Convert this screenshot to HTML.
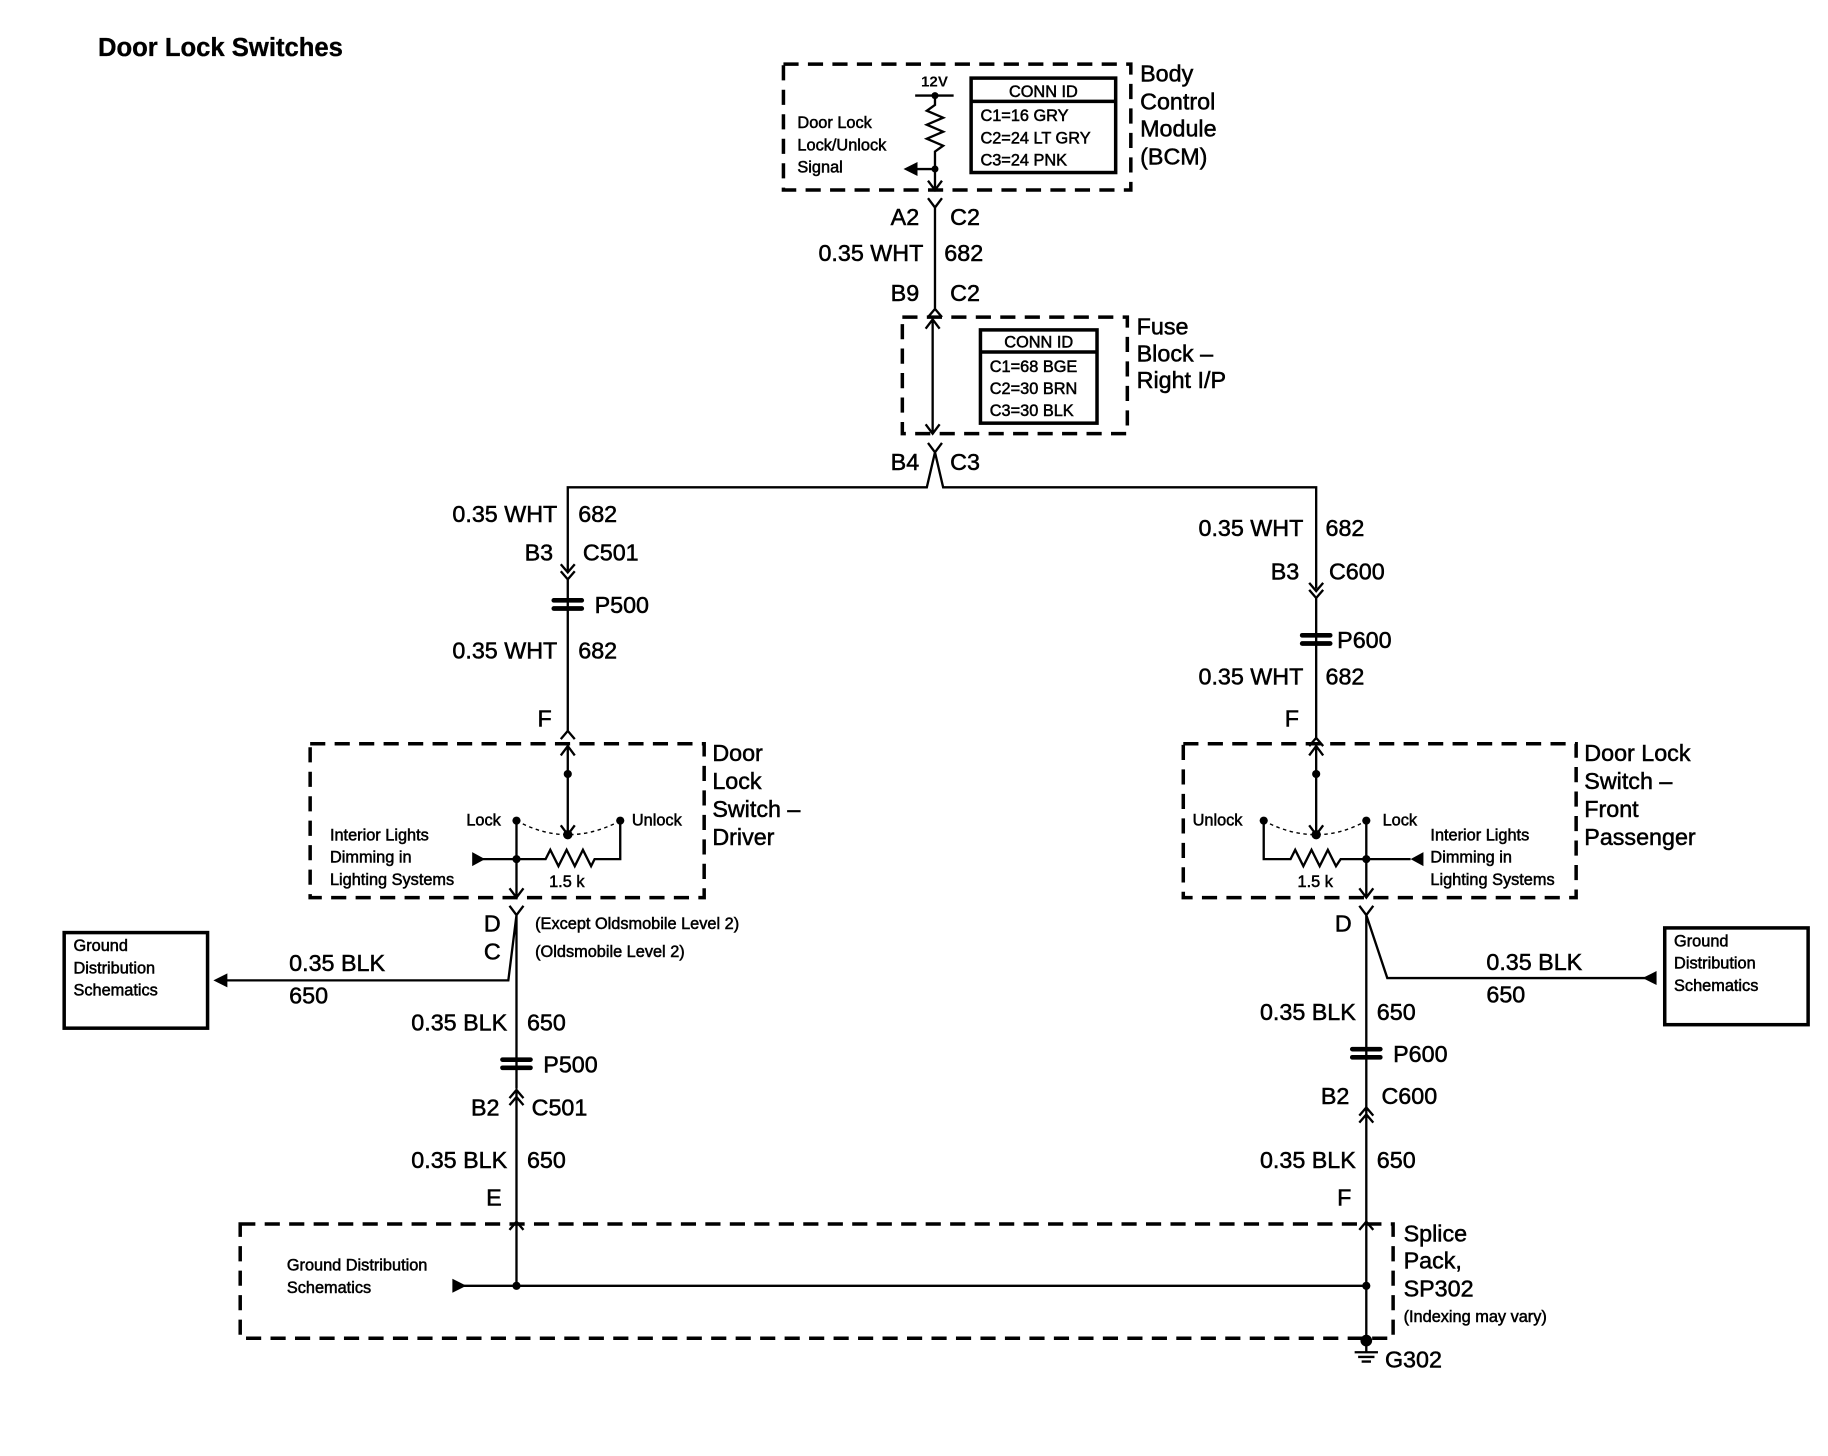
<!DOCTYPE html>
<html><head><meta charset="utf-8"><style>
html,body{margin:0;padding:0;background:#fff}
svg{display:block}
text{font-family:"Liberation Sans",Arial,sans-serif;fill:#000;stroke:#000;stroke-width:0.45}
.l{font-size:20px}.s{font-size:14px}.m{font-size:15px}
.d{fill:none;stroke:#000;stroke-width:3;stroke-dasharray:13 8}
.w{fill:none;stroke:#000;stroke-width:2}
.b{fill:none;stroke:#000;stroke-width:3}
</style></head><body>
<svg width="1828" height="1456" viewBox="0 0 1568 1249" xmlns="http://www.w3.org/2000/svg">
<text x="84" y="48" style="font-size:22px;font-weight:bold;stroke-width:0.3">Door Lock Switches</text>

<!-- BCM -->
<rect class="d" x="672" y="55" width="298" height="108"/>
<text x="790" y="74" style="font-size:13px;font-weight:bold;stroke-width:0">12V</text>
<path class="w" d="M785 82H818 M802 82V90 L795 95 L809 101 L795 107 L809 113 L795 119 L809 125 L802 130 V163 M796 155 L802 163 L808 155"/>
<circle cx="802" cy="82" r="3"/><circle cx="802" cy="145" r="3"/>
<path class="w" d="M802 145H785"/><path d="M775 145 L787 139 L787 151Z"/>
<text class="s" x="684" y="110">Door Lock</text><text class="s" x="684" y="129">Lock/Unlock</text><text class="s" x="684" y="148">Signal</text>
<rect class="b" x="833" y="67" width="124" height="81"/><path class="b" d="M833 87H957"/>
<text class="s" x="895" y="83" text-anchor="middle">CONN ID</text>
<text class="s" x="841" y="104">C1=16 GRY</text><text class="s" x="841" y="123">C2=24 LT GRY</text><text class="s" x="841" y="142">C3=24 PNK</text>
<text class="l" x="978" y="70">Body</text><text class="l" x="978" y="94">Control</text><text class="l" x="978" y="117">Module</text><text class="l" x="978" y="141">(BCM)</text>

<path class="w" d="M796 170 L802 178 L808 170 M802 178V265 M796 272 L802 265 L808 272"/>
<text class="l" x="764" y="193">A2</text><text class="l" x="815" y="193">C2</text>
<text class="l" x="792" y="224" text-anchor="end">0.35 WHT</text><text class="l" x="810" y="224">682</text>
<text class="l" x="764" y="258">B9</text><text class="l" x="815" y="258">C2</text>

<!-- Fuse block -->
<rect class="d" x="774" y="272" width="193" height="100"/>
<path class="w" d="M800 274V372 M794 282 L800 274 L806 282 M794 364 L800 372 L806 364"/>
<rect class="b" x="841" y="283" width="100" height="80"/><path class="b" d="M841 302H941"/>
<text class="s" x="891" y="298" text-anchor="middle">CONN ID</text>
<text class="s" x="849" y="319">C1=68 BGE</text><text class="s" x="849" y="338">C2=30 BRN</text><text class="s" x="849" y="357">C3=30 BLK</text>
<text class="l" x="975" y="287">Fuse</text><text class="l" x="975" y="310">Block –</text><text class="l" x="975" y="333">Right I/P</text>

<path class="w" d="M796 380 L802 388 L808 380 M802 388 L795 418 H487 V490 M802 388 L809 418 H1129 V505"/>
<text class="l" x="764" y="403">B4</text><text class="l" x="815" y="403">C3</text>

<!-- Left column -->
<text class="l" x="478" y="448" text-anchor="end">0.35 WHT</text><text class="l" x="496" y="448">682</text>
<text class="l" x="450" y="481">B3</text><text class="l" x="500" y="481">C501</text>
<path class="w" d="M481 484 L487 491 L493 484 M481 490 L487 497 L493 490 M487 497V627 M481 634 L487 627 L493 634"/>
<rect x="473" y="513" width="28" height="4" rx="2"/><rect x="473" y="520" width="28" height="4" rx="2"/>
<text class="l" x="510" y="526">P500</text>
<text class="l" x="478" y="565" text-anchor="end">0.35 WHT</text><text class="l" x="496" y="565">682</text>
<text class="l" x="461" y="623">F</text>

<rect class="d" x="266" y="638" width="338" height="132"/>
<path class="w" d="M487 640V716 M481 648 L487 640 L493 648 M481 708 L487 716 L493 708"/>
<circle cx="487" cy="664" r="3.5"/><circle cx="487" cy="716" r="4"/>
<circle cx="443" cy="704" r="3.5"/><circle cx="532" cy="704" r="3.5"/>
<path d="M443 704 Q465 716 487 716 Q510 716 532 704" fill="none" stroke="#000" stroke-width="1.2" stroke-dasharray="3 3"/>
<path class="w" d="M443 704V770 M437 762 L443 770 L449 762 M412 737H468 L472 729 L479 743 L486 729 L493 743 L500 729 L507 743 L510 737 H532 V704"/>
<path d="M416 737 L405 731 L405 743Z"/><circle cx="443" cy="737" r="3.5"/>
<text class="s" x="400" y="708">Lock</text><text class="s" x="542" y="708">Unlock</text>
<text class="s" x="283" y="721">Interior Lights</text><text class="s" x="283" y="740">Dimming in</text><text class="s" x="283" y="759">Lighting Systems</text>
<text class="s" x="471" y="761">1.5 k</text>
<text class="l" x="611" y="653">Door</text><text class="l" x="611" y="677">Lock</text><text class="l" x="611" y="701">Switch –</text><text class="l" x="611" y="725">Driver</text>

<path class="w" d="M437 777 L443 785 L449 777 M443 785V934 M443 785 L436 841 H190"/>
<path d="M183 841 L195 835 L195 847Z"/>
<text class="l" x="415" y="799">D</text><text class="l" x="415" y="823">C</text>
<text class="s" x="459" y="797">(Except Oldsmobile Level 2)</text><text class="s" x="459" y="821">(Oldsmobile Level 2)</text>
<text class="l" x="248" y="833">0.35 BLK</text><text class="l" x="248" y="861">650</text>
<rect class="b" x="55" y="800" width="123" height="82"/>
<text class="s" x="63" y="816">Ground</text><text class="s" x="63" y="835">Distribution</text><text class="s" x="63" y="854">Schematics</text>
<text class="l" x="435" y="884" text-anchor="end">0.35 BLK</text><text class="l" x="452" y="884">650</text>
<rect x="429" y="907" width="28" height="4" rx="2"/><rect x="429" y="914" width="28" height="4" rx="2"/>
<text class="l" x="466" y="920">P500</text>
<path class="w" d="M437 942 L443 935 L449 942 M437 948 L443 941 L449 948 M443 935V1103 M437 1055 L443 1048 L449 1055"/>
<text class="l" x="404" y="957">B2</text><text class="l" x="456" y="957">C501</text>
<text class="l" x="435" y="1002" text-anchor="end">0.35 BLK</text><text class="l" x="452" y="1002">650</text>
<text class="l" x="417" y="1034">E</text>

<!-- Splice pack -->
<rect class="d" x="206" y="1050" width="989" height="98"/>
<path class="w" d="M396 1103H1172"/><path d="M400 1103 L388 1097 L388 1109Z"/>
<circle cx="443" cy="1103" r="3.5"/><circle cx="1172" cy="1103" r="3.5"/>
<text class="s" x="246" y="1090">Ground Distribution</text><text class="s" x="246" y="1109">Schematics</text>
<path class="w" d="M1172 1048V1160 M1166 1055 L1172 1048 L1178 1055 M1162 1160H1182 M1165 1164H1179 M1168 1168H1176"/>
<circle cx="1172" cy="1150" r="5"/>
<text class="l" x="1204" y="1065">Splice</text><text class="l" x="1204" y="1088">Pack,</text><text class="l" x="1204" y="1112">SP302</text>
<text class="s" x="1204" y="1134">(Indexing may vary)</text>
<text class="l" x="1188" y="1173">G302</text>

<!-- Right column -->
<text class="l" x="1118" y="460" text-anchor="end">0.35 WHT</text><text class="l" x="1137" y="460">682</text>
<text class="l" x="1090" y="497">B3</text><text class="l" x="1140" y="497">C600</text>
<path class="w" d="M1123 500 L1129 507 L1135 500 M1123 506 L1129 513 L1135 506 M1129 513V633 M1123 640 L1129 633 L1135 640"/>
<rect x="1115" y="543" width="28" height="4" rx="2"/><rect x="1115" y="550" width="28" height="4" rx="2"/>
<text class="l" x="1147" y="556">P600</text>
<text class="l" x="1118" y="587" text-anchor="end">0.35 WHT</text><text class="l" x="1137" y="587">682</text>
<text class="l" x="1102" y="623">F</text>

<rect class="d" x="1015" y="638" width="337" height="132"/>
<path class="w" d="M1129 640V716 M1123 648 L1129 640 L1135 648 M1123 708 L1129 716 L1135 708"/>
<circle cx="1129" cy="664" r="3.5"/><circle cx="1129" cy="716" r="4"/>
<circle cx="1084" cy="704" r="3.5"/><circle cx="1172" cy="704" r="3.5"/>
<path d="M1084 704 Q1106 716 1129 716 Q1151 716 1172 704" fill="none" stroke="#000" stroke-width="1.2" stroke-dasharray="3 3"/>
<path class="w" d="M1084 704V737 H1107 L1111 729 L1118 743 L1125 729 L1132 743 L1139 729 L1146 743 L1150 737 H1210 M1172 704V770 M1166 762 L1172 770 L1178 762"/>
<path d="M1210 737 L1221 731 L1221 743Z"/><circle cx="1172" cy="737" r="3.5"/>
<text class="s" x="1023" y="708">Unlock</text><text class="s" x="1186" y="708">Lock</text>
<text class="s" x="1227" y="721">Interior Lights</text><text class="s" x="1227" y="740">Dimming in</text><text class="s" x="1227" y="759">Lighting Systems</text>
<text class="s" x="1113" y="761">1.5 k</text>
<text class="l" x="1359" y="653">Door Lock</text><text class="l" x="1359" y="677">Switch –</text><text class="l" x="1359" y="701">Front</text><text class="l" x="1359" y="725">Passenger</text>

<path class="w" d="M1166 777 L1172 785 L1178 777 M1172 785V950 M1172 785 L1190 839 H1412"/>
<path d="M1409 839 L1421 833 L1421 845Z"/>
<text class="l" x="1145" y="799">D</text>
<text class="l" x="1275" y="832">0.35 BLK</text><text class="l" x="1275" y="860">650</text>
<rect class="b" x="1428" y="796" width="123" height="83"/>
<text class="s" x="1436" y="812">Ground</text><text class="s" x="1436" y="831">Distribution</text><text class="s" x="1436" y="850">Schematics</text>
<text class="l" x="1163" y="875" text-anchor="end">0.35 BLK</text><text class="l" x="1181" y="875">650</text>
<rect x="1158" y="898" width="28" height="4" rx="2"/><rect x="1158" y="905" width="28" height="4" rx="2"/>
<text class="l" x="1195" y="911">P600</text>
<path class="w" d="M1166 957 L1172 950 L1178 957 M1166 963 L1172 956 L1178 963 M1172 950V1050"/>
<text class="l" x="1133" y="947">B2</text><text class="l" x="1185" y="947">C600</text>
<text class="l" x="1163" y="1002" text-anchor="end">0.35 BLK</text><text class="l" x="1181" y="1002">650</text>
<text class="l" x="1147" y="1034">F</text>
</svg>
</body></html>
